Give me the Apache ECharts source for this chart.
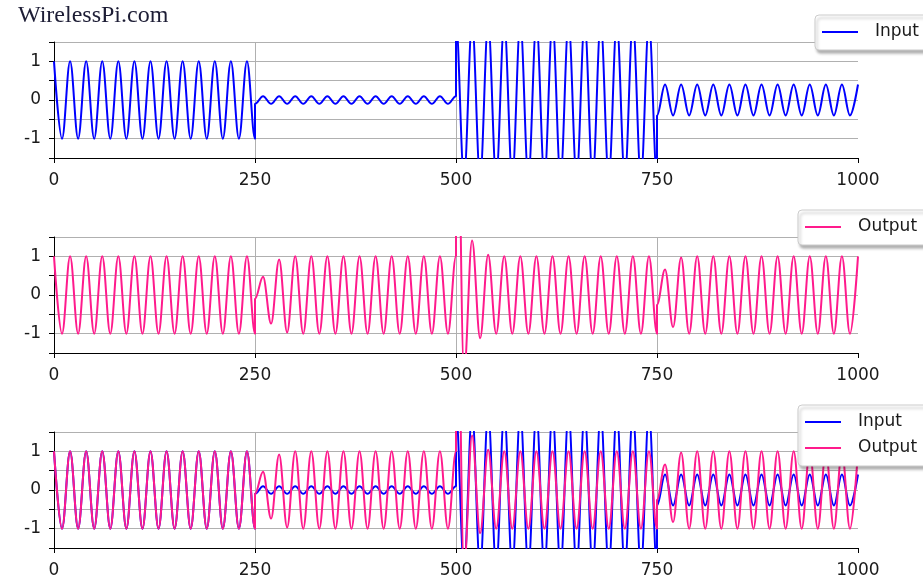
<!DOCTYPE html>
<html>
<head>
<meta charset="utf-8" />
<title>AGC input / output</title>
<script src="https://cdn.jsdelivr.net/npm/echarts@6/dist/echarts.min.js"></script>
<style>
	html, body { margin: 0; padding: 0; background: #fff; }
	#chart { width: 923px; height: 579px; }
</style>
</head>
<body>
<div id="chart"></div>
<script type="text/javascript">
	// x ticks and y ticks of every panel
	var xTicks = [0, 250, 500, 750, 1000];
	var yTickLabels = [-1, 0, 1];
	var yMin = -1.5, yMax = 1.5, yStep = 0.5;

	// the signal at its peaks and troughs,
	// one extremum every 10 samples, each block starting at segStarts
	var segStarts = [0, 250, 500, 750];
	var halfPeriod = 10;

	var inputSeg1 = [1,-1,1,-1,1,-1,1,-1,1,-1,1,-1,1,-1,1,-1,1,-1,1,-1,1,-1,1,-1,1,-1];
	var inputSeg2 = [-0.1,0.1,-0.1,0.1,-0.1,0.1,-0.1,0.1,-0.1,0.1,-0.1,0.1,-0.1,0.1,-0.1,0.1,-0.1,0.1,-0.1,0.1,-0.1,0.1,-0.1,0.1,-0.1,0.1];
	var inputSeg3 = [2,-2,2,-2,2,-2,2,-2,2,-2,2,-2,2,-2,2,-2,2,-2,2,-2,2,-2,2,-2,2,-2];
	var inputSeg4 = [-0.4,0.4,-0.4,0.4,-0.4,0.4,-0.4,0.4,-0.4,0.4,-0.4,0.4,-0.4,0.4,-0.4,0.4,-0.4,0.4,-0.4,0.4,-0.4,0.4,-0.4,0.4,-0.4,0.4];

	var outputSeg1 = [1,-1,1,-1,1,-1,1,-1,1,-1,1,-1,1,-1,1,-1,1,-1,1,-1,1,-1,1,-1,1,-1];
	var outputSeg2 = [-0.1,0.47,-0.74,0.92,-0.97,1,-1,1,-1,1,-1,1,-1,1,-1,1,-1,1,-1,1,-1,1,-1,1,-1,1];
	var outputSeg3 = [8,-2,1.41,-1.12,1.04,-1,1,-1,1,-1,1,-1,1,-1,1,-1,1,-1,1,-1,1,-1,1,-1,1,-1];
	var outputSeg4 = [-0.25,0.66,-0.83,0.97,-1,1,-1,1,-1,1,-1,1,-1,1,-1,1,-1,1,-1,1,-1,1,-1,1,-1,1];

	var inputColor = '#0000ff';
	var outputColor = '#ff1a8c';

	function toPoints(segs) {
		var pts = [];
		for (var s = 0; s < segs.length; s++) {
			for (var i = 0; i < segs[s].length; i++) {
				pts.push([segStarts[s] + i * halfPeriod, segs[s][i]]);
			}
		}
		return pts;
	}

	var inputData = toPoints([inputSeg1, inputSeg2, inputSeg3, inputSeg4]);
	var outputData = toPoints([outputSeg1, outputSeg2, outputSeg3, outputSeg4]);

	var gridTops = [42, 237, 432];
	var labelFont = { color: '#1a1a1a', fontFamily: 'DejaVu Sans', fontSize: 17 };

	function makeX(i) {
		return {
			type: 'value', gridIndex: i,
			min: xTicks[0], max: xTicks[xTicks.length - 1],
			interval: xTicks[1] - xTicks[0],
			axisLine: { show: true, onZero: false, lineStyle: { color: '#000', width: 1 } },
			axisTick: { show: true, length: 5, lineStyle: { color: '#000' } },
			axisLabel: Object.assign({ margin: 14, formatter: function (v) { return String(v); } }, labelFont),
			splitLine: { show: true, showMaxLine: false, lineStyle: { color: '#b0b0b0', width: 1 } }
		};
	}
	function makeY(i) {
		return {
			type: 'value', gridIndex: i,
			min: yMin, max: yMax, interval: yStep,
			axisLine: { show: true, onZero: false, lineStyle: { color: '#000', width: 1 } },
			axisTick: { show: true, length: 5, lineStyle: { color: '#000' } },
			axisLabel: Object.assign({
				margin: 13,
				formatter: function (v) { return yTickLabels.indexOf(v) >= 0 ? String(v) : ''; }
			}, labelFont),
			splitLine: { show: true, lineStyle: { color: '#b0b0b0', width: 1 } }
		};
	}
	function makeLine(name, data, color, i) {
		return {
			name: name, type: 'line', xAxisIndex: i, yAxisIndex: i,
			data: data, showSymbol: false, symbol: 'none',
			smooth: 0.36, smoothMonotone: 'x', clip: true,
			lineStyle: { color: color, width: 2 },
			itemStyle: { color: color }
		};
	}
	function makeLegend(names, left, top) {
		return {
			data: names, orient: 'vertical', left: left, top: top,
			icon: 'rect', itemWidth: 36, itemHeight: 2, itemGap: 6,
			padding: [7, 10, 8, 7],
			backgroundColor: '#fff', borderColor: '#cccccc', borderWidth: 1, borderRadius: 4,
			shadowBlur: 3, shadowOffsetX: 2, shadowOffsetY: 3, shadowColor: 'rgba(0,0,0,0.3)',
			textStyle: { color: '#1a1a1a', fontFamily: 'DejaVu Sans', fontSize: 17, lineHeight: 20, padding: [0, 0, 0, 12] },
			selectedMode: false
		};
	}

	var myChart = echarts.init(document.getElementById('chart'), null, { renderer: 'canvas' });
	myChart.setOption({
		animation: false,
		backgroundColor: '#fff',
		grid: gridTops.map(function (t) {
			return { left: 54, width: 804, top: t, height: 116, containLabel: false, outerBoundsMode: 'none' };
		}),
		xAxis: [makeX(0), makeX(1), makeX(2)],
		yAxis: [makeY(0), makeY(1), makeY(2)],
		legend: [
			makeLegend(['Input'], 815, 15),
			makeLegend(['Output'], 798, 210),
			makeLegend(['Input', 'Output'], 798, 405)
		],
		graphic: [{
			type: 'text', left: 18, top: 4,
			style: { text: 'WirelessPi.com', fill: '#1d1d35', font: '24px "Liberation Serif"' }
		}],
		series: [
			makeLine('Input', inputData, inputColor, 0),
			makeLine('Output', outputData, outputColor, 1),
			makeLine('Input', inputData, inputColor, 2),
			makeLine('Output', outputData, outputColor, 2)
		]
	});
</script>
</body>
</html>
